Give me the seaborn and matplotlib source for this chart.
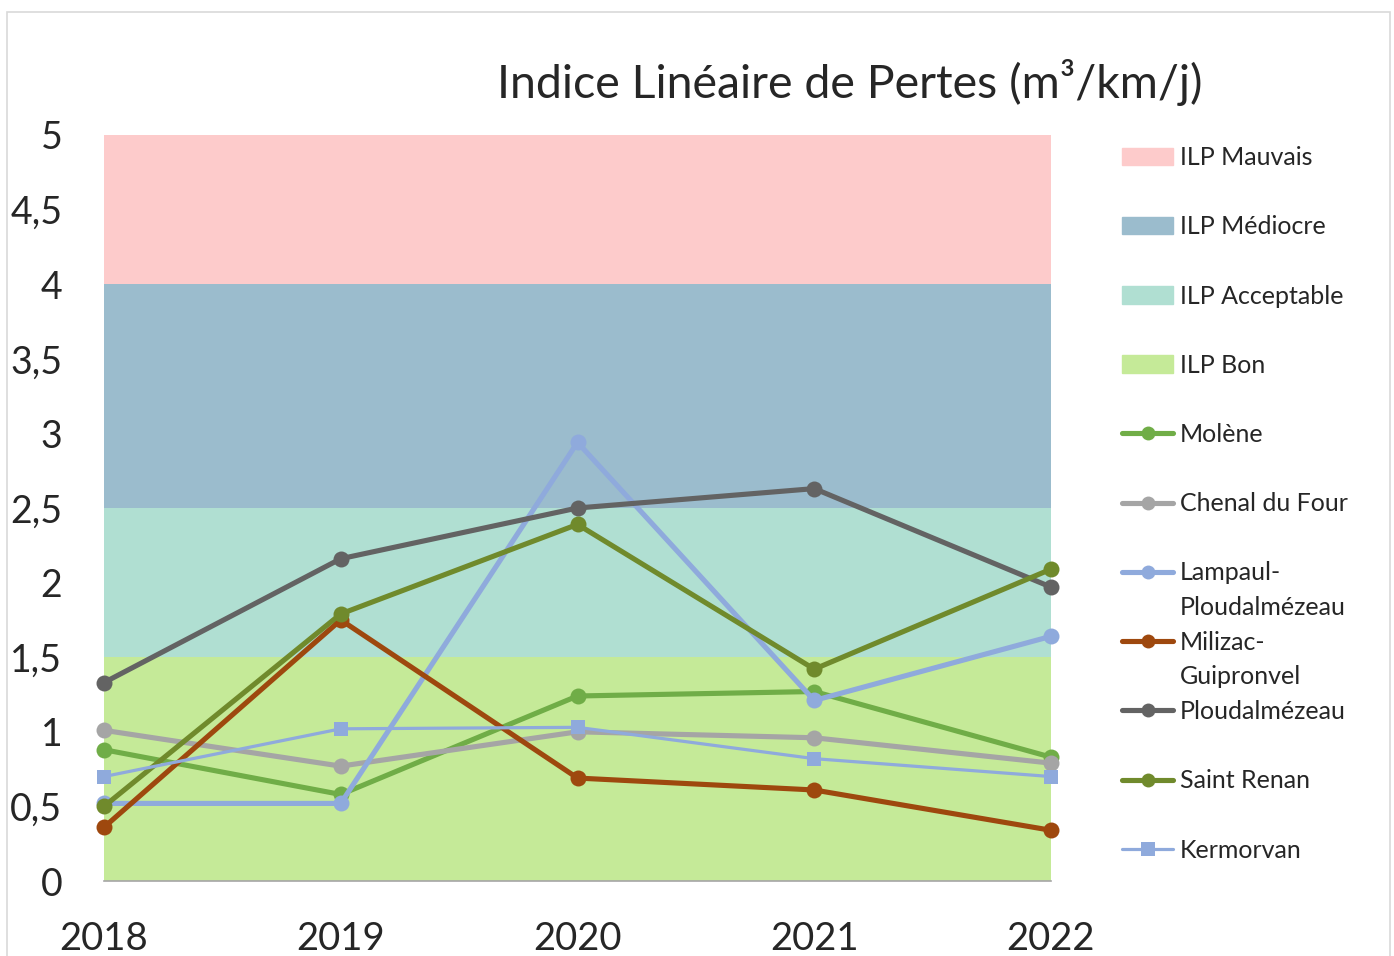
import seaborn as sns
import matplotlib.pyplot as plt
import matplotlib.patches as mpatches
from matplotlib.lines import Line2D
import pandas as pd

sns.set_theme(style="white")
plt.rcParams["font.family"] = ["Lato", "DejaVu Sans"]

years = [2018, 2019, 2020, 2021, 2022]

# ILP bands (m3/km/j)
band_names = ["ILP Bon", "ILP Acceptable", "ILP Médiocre", "ILP Mauvais"]
band_low = [0, 1.5, 2.5, 4]
band_high = [1.5, 2.5, 4, 5]
band_colors = ["#C5EA98", "#B0DFD2", "#9BBCCD", "#FDCBCB"]

communes = ["Molène", "Chenal du Four", "Lampaul-Ploudalmézeau",
            "Milizac-Guipronvel", "Ploudalmézeau", "Saint Renan", "Kermorvan"]
molene = [0.88, 0.58, 1.24, 1.27, 0.83]
chenal_du_four = [1.01, 0.77, 1.00, 0.96, 0.79]
lampaul = [0.52, 0.52, 2.94, 1.21, 1.64]
milizac = [0.36, 1.75, 0.69, 0.61, 0.34]
ploudalmezeau = [1.33, 2.16, 2.50, 2.63, 1.97]
saint_renan = [0.50, 1.79, 2.39, 1.42, 2.09]
kermorvan = [0.70, 1.02, 1.03, 0.82, 0.70]
series_values = [molene, chenal_du_four, lampaul, milizac,
                 ploudalmezeau, saint_renan, kermorvan]
series_colors = ["#70AD47", "#A5A5A5", "#8FAADC", "#9E480E",
                 "#636363", "#708A2C", "#8FAADC"]
series_markers = ["o", "o", "o", "o", "o", "o", "s"]

y_ticks = [0, 0.5, 1, 1.5, 2, 2.5, 3, 3.5, 4, 4.5, 5]
y_tick_labels = ["0", "0,5", "1", "1,5", "2", "2,5", "3", "3,5", "4", "4,5", "5"]

fig = plt.figure(figsize=(13.94, 9.56), dpi=100)
fig.patches.append(mpatches.Rectangle((7 / 1394, -0.01), 1383 / 1394, 1 - 12 / 956 + 0.01,
                                      transform=fig.transFigure, fill=False,
                                      edgecolor="#D9D9D9", linewidth=1.2))
ax = fig.add_axes([104 / 1394, 75 / 956, 947 / 1394, 746 / 956])

for name, lo, hi, col in zip(band_names, band_low, band_high, band_colors):
    ax.fill_between(years, lo, hi, color=col, linewidth=0, zorder=0)

data = pd.DataFrame({
    "year": years * len(communes),
    "ilp": [v for vals in series_values for v in vals],
    "commune": [c for c in communes for _ in years],
})

for name, col, mk in zip(communes, series_colors, series_markers):
    lw = 2.3 if name == "Kermorvan" else 3.7
    ms = 10 if mk == "s" else 11.5
    sns.lineplot(data=data[data["commune"] == name], x="year", y="ilp",
                 color=col, marker=mk, markersize=ms, markeredgewidth=0,
                 linewidth=lw, clip_on=False, ax=ax, legend=False, zorder=3)

ax.set_xlim(2018, 2022)
ax.set_ylim(0, 5)
ax.set_xticks(years)
ax.set_xticklabels([str(y) for y in years], fontsize=27.5)
ax.set_yticks(y_ticks)
ax.set_yticklabels(y_tick_labels, fontsize=27)
ax.tick_params(axis="x", length=0, pad=29)
ax.tick_params(axis="y", length=0, pad=30)
ax.set_xlabel("")
ax.set_ylabel("")
for side in ["top", "right", "left"]:
    ax.spines[side].set_visible(False)
ax.spines["bottom"].set_color("#A6A6A6")
ax.spines["bottom"].set_linewidth(1.2)
ax.set_facecolor("none")

fig.text(850 / 1394, 1 - 82 / 956, "Indice Linéaire de Pertes (m³/km/j)",
         ha="center", va="center", fontsize=33.5)

handles = [mpatches.Patch(color=c, label=n)
           for n, c in zip(band_names[::-1], band_colors[::-1])]
short_labels = ["Molène", "Chenal du Four", "Lampaul-", "Milizac-",
                "Ploudalmézeau", "Saint Renan", "Kermorvan"]
for lab, col, mk in zip(short_labels, series_colors, series_markers):
    lw = 2.3 if mk == "s" else 3.7
    handles.append(Line2D([], [], color=col, marker=mk, markersize=10,
                          markeredgewidth=0, linewidth=lw, label=lab))

leg = fig.legend(handles=handles, loc="upper left",
                 bbox_to_anchor=(1112 / 1394, 1 - 136 / 956),
                 frameon=False, fontsize=18, handlelength=2.05,
                 handletextpad=0.25, labelspacing=1.85, borderaxespad=0)

# wrapped legend labels: second line sits under the first, like in Excel
extra = {"Lampaul-": "Ploudalmézeau", "Milizac-": "Guipronvel"}
for txt in leg.get_texts():
    if txt.get_text() in extra:
        note = plt.Annotation(extra[txt.get_text()], xy=(0, 0),
                              xycoords=txt, xytext=(0, -8),
                              textcoords="offset points",
                              va="top", ha="left", fontsize=18)
        note.set_zorder(10)
        fig.add_artist(note)

fig.savefig("out.png", dpi=100)
